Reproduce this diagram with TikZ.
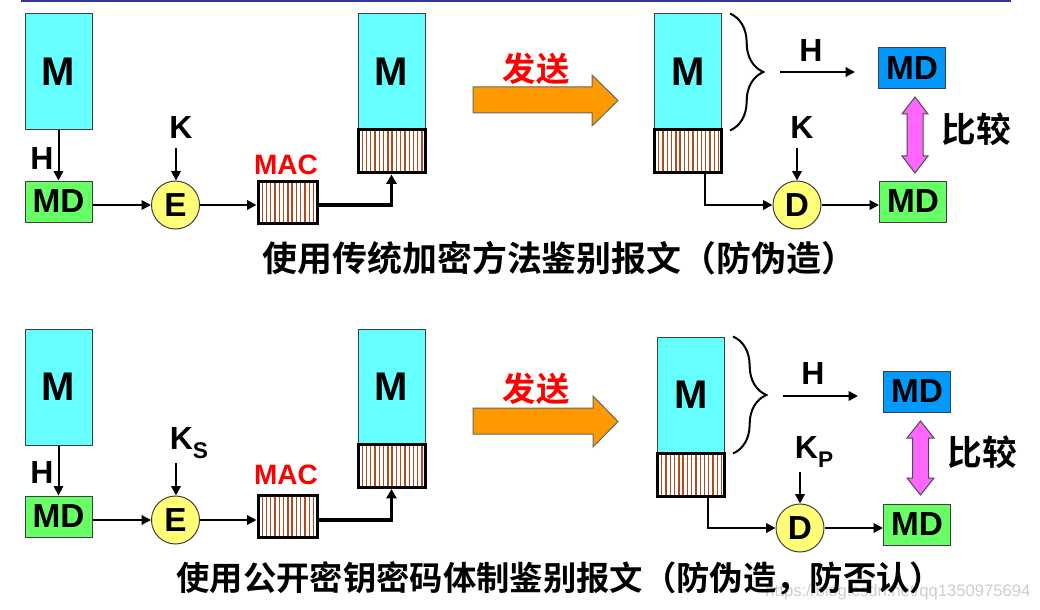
\documentclass[tikz,border=0pt]{standalone}
\usepackage{fontspec}
\setmainfont{Liberation Sans}
\newfontfamily\cjk{Noto Sans CJK SC}[BoldFont={Noto Sans CJK SC Bold}]
\usetikzlibrary{arrows.meta,decorations.pathreplacing}

\definecolor{msgcyan}{RGB}{102,255,255}
\definecolor{mdgreen}{RGB}{102,255,102}
\definecolor{mdblue}{RGB}{0,153,255}
\definecolor{keyyellow}{RGB}{255,255,119}
\definecolor{sendorange}{RGB}{255,153,0}
\definecolor{cmppink}{RGB}{255,102,255}
\definecolor{macbrown}{RGB}{175,75,30}
\definecolor{rulecolor}{RGB}{51,51,153}
\definecolor{markgray}{RGB}{205,205,205}

\tikzset{every picture/.style={line width=0.75pt}}
\tikzset{
	msgbox/.style={draw=black!75, fill=msgcyan, minimum width=50.25pt, minimum height=87pt, inner sep=0pt, font=\bfseries\fontsize{30}{30}\selectfont},
	mdbox/.style={draw=black!75, fill=mdgreen, minimum width=50.25pt, minimum height=30.75pt, inner sep=0pt, font=\bfseries\fontsize{25}{25}\selectfont},
	hashbox/.style={draw, line width=2.25pt, minimum width=50.25pt, minimum height=32.25pt, inner sep=0pt,
		path picture={\foreach \s in {1,...,16}{\draw[macbrown, line width=1pt] ([xshift=\s*3.2pt]path picture bounding box.south west) -- ([xshift=\s*3.2pt]path picture bounding box.north west);}}},
	cipher/.style={circle, draw=black!75, fill=keyyellow, minimum size=36pt, inner sep=0pt, font=\bfseries\fontsize{25}{25}\selectfont},
	lbl/.style={inner sep=0pt, font=\bfseries\fontsize{24}{24}\selectfont},
	cjklbl/.style={inner sep=0pt, font=\cjk\bfseries\fontsize{25}{25}\selectfont},
	flow/.style={line width=1.5pt, -{Triangle[length=7pt,width=7pt]}},
	thickflow/.style={line width=2.6pt, -{Triangle[length=7pt,width=7.5pt]}},
	curly/.style={decorate, decoration={brace, amplitude=25pt}, line width=1.5pt}
}

\begin{document}
\begin{tikzpicture}[x=0.75pt,y=0.75pt,yscale=-1,xscale=1]
	\useasboundingbox (0,0) rectangle (1040,610);
	%Straight Lines: rule at the top
	\draw [rulecolor, line width=1.5pt] (21,0.75) -- (1011,0.75);
	
	%%%%% upper diagram: conventional key
	%Shape: Rectangle
	\node [msgbox] (mA) at (58.5,72) {M};
	\node [mdbox] (mdA) at (58.5,201.5) {MD};
	\node [cipher] (eA) at (175.5,205) {E};
	\node [hashbox, minimum width=44.25pt, minimum height=31.5pt] (macA) at (287.5,202) {};
	\node [msgbox] (mB) at (391.5,72) {M};
	\node [hashbox] (hatB) at (391.5,151.5) {};
	% Text Node
	\node [lbl] (hA) at (42,158) {H};
	\node [lbl] (kA) at (181,127) {K};
	\node [lbl, text=red, font=\bfseries\fontsize{21}{21}\selectfont] (macTxtA) at (286,165) {MAC};
	\coordinate (kAtail) at (176,148);
	%Straight Lines
	\draw [flow] (mA) -- (mdA);
	\draw [flow] (kAtail) -- (kAtail |- eA.north);
	\draw [flow] (mdA.east |- eA) -- (eA.west);
	\draw [flow] (eA.east) -- (macA.west |- eA);
	\draw [thickflow] (macA.east |- eA) -| (hatB.south);
	
	%Shape: Right Arrow
	\draw [draw=black!60, fill=sendorange] (473,87) -- (592,87) -- (592,75) -- (618,100.5) -- (592,126) -- (592,113) -- (473,113) -- cycle;
	\node [cjklbl, text=red] (sendA) at (536,69) {发送};
	
	\node [msgbox] (mC) at (688,72) {M};
	\node [hashbox] (hatC) at (688,151.5) {};
	\node [cipher] (dA) at (797,205) {D};
	\node [mdbox, fill=mdblue] (mdBlueA) at (912,68) {MD};
	\node [mdbox] (mdRecvA) at (913,201.5) {MD};
	%Shape: Brace
	\draw [curly] ([xshift=6pt]mC.north east) -- ([xshift=6pt]mC.south east);
	\coordinate (hA1) at (780,72);
	\coordinate (hA2) at (855,72);
	\coordinate (kCtail) at (797,148);
	% Text Node
	\node [lbl] (hC) at (811,50) {H};
	\node [lbl] (kC) at (802,127) {K};
	\node [cjklbl, font=\cjk\bfseries\fontsize{26}{26}\selectfont] (cmpA) at (976,129) {比较};
	%Straight Lines
	\draw [flow] (hA1) -- (hA2);
	\draw [flow] (kCtail) -- (dA.north);
	\draw [flow] ([xshift=12.75pt]hatC.south) |- (dA.west);
	\draw [flow] (dA.east) -- (mdRecvA.west |- dA);
	%Shape: Up Down Arrow
	\draw [draw=black!70, fill=cmppink] (915,97) -- (928,114) -- (923,114) -- (923,156) -- (928,156) -- (915,173) -- (902,156) -- (907,156) -- (907,114) -- (902,114) -- cycle;
	
	% Text Node
	\node [inner sep=0pt, anchor=west, font=\cjk\bfseries\fontsize{26.2}{26.2}\selectfont] (capA) at (262,258) {使用传统加密方法鉴别报文（防伪造）};
	
	%%%%% lower diagram: public key
	%Shape: Rectangle
	\node [msgbox] (mD) at (58.5,387) {M};
	\node [mdbox] (mdD) at (58.5,516.5) {MD};
	\node [cipher] (eB) at (175.5,520) {E};
	\node [hashbox, minimum width=44.25pt, minimum height=31.5pt] (macB) at (287.5,516) {};
	\node [msgbox] (mE) at (391.5,387) {M};
	\node [hashbox] (hatE) at (391.5,466) {};
	% Text Node
	\node [lbl] (hD) at (42,472) {H};
	\node [lbl] (kD) at (189,443) {K\raisebox{-0.3em}{\fontsize{17}{17}\selectfont S}};
	\node [lbl, text=red, font=\bfseries\fontsize{21}{21}\selectfont] (macTxtB) at (286,475) {MAC};
	\coordinate (kDtail) at (176,463);
	%Straight Lines
	\draw [flow] (mD) -- (mdD);
	\draw [flow] (kDtail) -- (kDtail |- eB.north);
	\draw [flow] (mdD.east |- eB) -- (eB.west);
	\draw [flow] (eB.east) -- (macB.west |- eB);
	\draw [thickflow] (macB.east |- eB) -| (hatE.south);
	
	%Shape: Right Arrow
	\draw [draw=black!60, fill=sendorange] (473,408) -- (593,408) -- (593,396) -- (618,421.5) -- (593,447) -- (593,434) -- (473,434) -- cycle;
	\node [cjklbl, text=red] (sendB) at (536,389) {发送};
	
	\node [msgbox] (mF) at (691,395) {M};
	\node [hashbox] (hatF) at (691,474.5) {};
	\node [cipher] (dB) at (800,528) {D};
	\node [mdbox, fill=mdblue] (mdBlueB) at (917,391.5) {MD};
	\node [mdbox] (mdRecvB) at (917,524.5) {MD};
	%Shape: Brace
	\draw [curly] ([xshift=6pt]mF.north east) -- ([xshift=6pt]mF.south east);
	\coordinate (hB1) at (783,396);
	\coordinate (hB2) at (858,396);
	\coordinate (kFtail) at (800,472);
	% Text Node
	\node [lbl] (hF) at (813,373) {H};
	\node [lbl] (kF) at (814,452) {K\raisebox{-0.3em}{\fontsize{17}{17}\selectfont P}};
	\node [cjklbl, font=\cjk\bfseries\fontsize{26}{26}\selectfont] (cmpB) at (982,452) {比较};
	%Straight Lines
	\draw [flow] (hB1) -- (hB2);
	\draw [flow] (kFtail) -- (dB.north);
	\draw [flow] ([xshift=12.75pt]hatF.south) |- (dB.west);
	\draw [flow] (dB.east) -- (mdRecvB.west |- dB);
	%Shape: Up Down Arrow
	\draw [draw=black!70, fill=cmppink] (920.5,421) -- (934,438) -- (928.5,438) -- (928.5,478) -- (934,478) -- (920.5,495) -- (907,478) -- (912.5,478) -- (912.5,438) -- (907,438) -- cycle;
	
	% Text Node: watermark, then caption over it
	\node [inner sep=0pt, anchor=east, text=markgray, font=\fontsize{12.5}{12.5}\selectfont] (mark) at (1031,592) {https://blog.csdn.net/qq1350975694};
	\node [inner sep=0pt, anchor=west, font=\cjk\bfseries\fontsize{25}{25}\selectfont] (capB) at (176,578) {使用公开密钥密码体制鉴别报文（防伪造，防否认）};
	
\end{tikzpicture}
\end{document}
